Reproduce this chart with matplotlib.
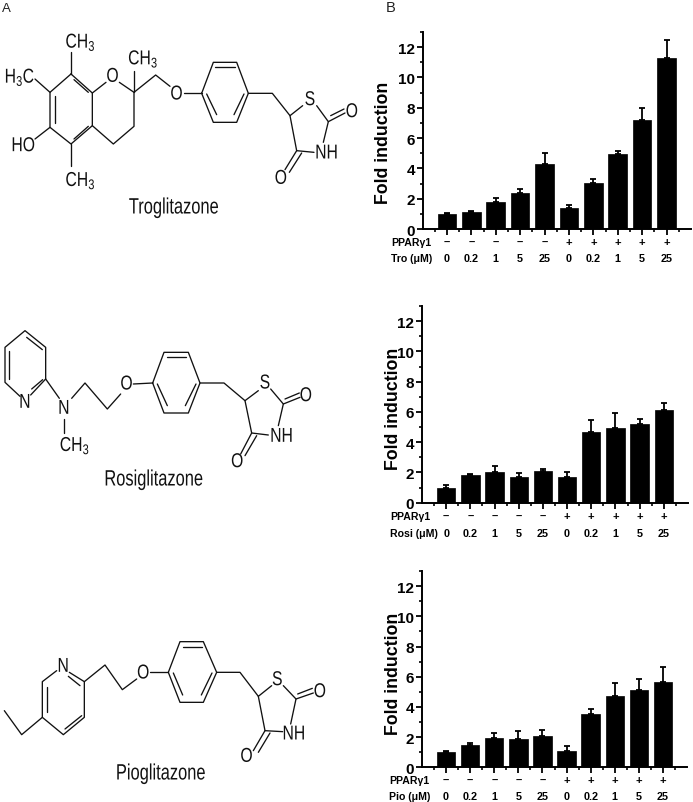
import numpy as np
import matplotlib
matplotlib.use('Agg')
import matplotlib.pyplot as plt
from matplotlib.patheffects import AbstractPathEffect
from matplotlib.transforms import Affine2D

W, H = 693, 803

plt.rcParams['font.family'] = ['Liberation Sans', 'DejaVu Sans']
plt.rcParams['mathtext.default'] = 'regular'

doses = ['0', '0.2', '1', '5', '25', '0', '0.2', '1', '5', '25']
ppar = ['–', '–', '–', '–', '–', '+', '+', '+', '+', '+']

tro_vals = [1.0, 1.1, 1.8, 2.4, 4.3, 1.4, 3.05, 4.95, 7.2, 11.3]
tro_err = [0.05, 0.08, 0.27, 0.25, 0.7, 0.2, 0.25, 0.2, 0.8, 1.15]
rosi_vals = [1.0, 1.8, 2.0, 1.7, 2.1, 1.7, 4.7, 4.95, 5.2, 6.1]
rosi_err = [0.2, 0.1, 0.45, 0.25, 0.1, 0.35, 0.75, 1.0, 0.35, 0.5]
pio_vals = [1.0, 1.5, 1.95, 1.85, 2.05, 1.05, 3.5, 4.7, 5.1, 5.65]
pio_err = [0.1, 0.1, 0.3, 0.55, 0.4, 0.35, 0.35, 0.9, 0.75, 1.0]

# structure drawings in 3x zoom pixels
tro_bonds = [
    [(213, 225), (277, 282), (277, 380), (213, 435), (150, 385), (150, 280), (213, 225)],
    [(277, 282), (318, 250)], [(358, 250), (402, 280), (402, 382), (340, 435), (277, 380)],
    [(213, 225), (213, 160)], [(150, 280), (105, 240)], [(150, 385), (105, 420)],
    [(213, 435), (213, 500)], [(402, 280), (402, 215)],
    [(402, 280), (467, 228), (510, 262)], [(552, 283), (605, 283)],
    [(605, 283), (640, 190), (710, 190), (745, 283), (710, 370), (640, 370), (605, 283)],
    [(745, 283), (817, 283), (870, 350), (908, 320)], [(950, 320), (985, 368), (970, 430)],
    [(942, 460), (890, 455), (870, 350)], [(985, 368), (1035, 342)], [(890, 455), (855, 512)],
]
tro_inner = [
    [(165, 292), (165, 373)], [(222, 242), (265, 280)], [(222, 420), (265, 382)],
    [(645, 205), (705, 205)], [(620, 285), (650, 347)], [(732, 285), (702, 347)],
    [(992, 350), (1032, 330)], [(905, 462), (868, 520)],
]
tro_labels = [
    ('CH$_3$', 242, 130), ('H$_3$C', 60, 235), ('O', 338, 232), ('CH$_3$', 430, 180),
    ('HO', 70, 440), ('CH$_3$', 242, 545), ('O', 530, 285), ('S', 930, 302),
    ('O', 1056, 338), ('NH', 980, 462), ('O', 843, 538),
]

rosi_bonds = [
    [(137, 210), (137, 115), (75, 65), (15, 115), (15, 220), (60, 262)],
    [(92, 258), (137, 210), (178, 268)], [(192, 330), (192, 372)],
    [(215, 268), (255, 222), (322, 300), (362, 255)], [(400, 225), (458, 222)],
    [(458, 222), (492, 130), (565, 130), (600, 222), (565, 312), (492, 312), (458, 222)],
    [(600, 222), (672, 222), (735, 275), (775, 245)], [(812, 240), (850, 285), (835, 350)],
    [(805, 378), (755, 372), (735, 275)], [(850, 285), (900, 265)], [(755, 372), (722, 435)],
]
rosi_inner = [
    [(28, 125), (28, 210)], [(80, 85), (127, 122)], [(95, 240), (128, 212)],
    [(500, 145), (558, 145)], [(472, 225), (502, 290)], [(588, 225), (556, 290)],
    [(855, 270), (898, 252)], [(770, 380), (735, 440)],
]
rosi_labels = [
    ('N', 75, 280), ('N', 192, 298), ('CH$_3$', 225, 410), ('O', 380, 225), ('S', 795, 222),
    ('O', 918, 260), ('NH', 845, 382), ('O', 712, 458),
]

pio_bonds = [
    [(170, 245), (127, 278), (127, 385), (190, 437), (253, 385), (253, 278), (208, 250)],
    [(127, 385), (65, 437), (13, 365)], [(253, 278), (315, 228), (367, 302), (410, 270)],
    [(450, 250), (505, 250)],
    [(505, 250), (540, 158), (610, 158), (650, 250), (610, 340), (540, 340), (505, 250)],
    [(650, 250), (720, 250), (775, 322), (815, 290)], [(850, 290), (888, 330), (872, 405)],
    [(848, 428), (795, 425), (775, 322)], [(888, 330), (940, 312)], [(795, 425), (760, 485)],
]
pio_inner = [
    [(205, 262), (240, 290)], [(142, 295), (142, 370)], [(195, 420), (245, 380)],
    [(548, 175), (605, 175)], [(520, 252), (548, 318)], [(636, 252), (604, 318)],
    [(893, 315), (937, 298)], [(810, 432), (775, 490)],
]
pio_labels = [
    ('N', 190, 232), ('O', 430, 252), ('S', 832, 272), ('O', 960, 308), ('NH', 882, 435),
    ('O', 740, 502),
]


class Squeeze(AbstractPathEffect):
    # narrows text about its middle, the reference lettering is condensed
    def __init__(self, sx):
        super().__init__()
        self.sx = sx

    def draw_path(self, renderer, gc, tpath, affine, rgbFace=None):
        cx = (tpath.vertices[:, 0].min() + tpath.vertices[:, 0].max()) / 2
        squeeze = Affine2D().translate(-cx, 0).scale(self.sx, 1).translate(cx, 0)
        renderer.draw_path(gc, tpath, squeeze + affine, rgbFace)


def add_panel(fig, left, right, top, base, vals, err, drug, ylab_x, ylab_y, row1, row2, lab_x):
    ax = fig.add_axes([left / W, 1 - base / H, (right - left) / W, (base - top) / H])
    x = np.arange(1, 11)
    ax.bar(x, vals, width=0.76, color='black', edgecolor='black', linewidth=0.5)
    ax.errorbar(x, vals, yerr=[np.zeros(10), err], fmt='none', ecolor='black',
                elinewidth=1.3, capsize=2.2, capthick=1.3)
    ax.set_xlim(0, 11)
    ax.set_ylim(0, 13)
    ax.spines['top'].set_visible(False)
    ax.spines['right'].set_visible(False)
    ax.spines['left'].set_linewidth(1.4)
    ax.spines['bottom'].set_linewidth(1.4)
    ax.set_yticks(range(0, 13, 2))
    ax.set_yticks(range(1, 14, 2), minor=True)
    ax.set_xticks(x)
    ax.set_xticks(np.arange(0.5, 11, 1), minor=True)
    ax.set_xticklabels([])
    ax.tick_params(axis='both', which='major', length=4, width=1.3)
    ax.tick_params(axis='both', which='minor', length=2.5, width=1.2)
    ax.tick_params(axis='y', which='major', pad=1.5, labelsize=11)
    for lab in ax.get_yticklabels():
        lab.set_fontweight('bold')

    # two rows under the axis, placed in figure pixels on y
    trans = ax.get_xaxis_transform()
    for i in range(10):
        ax.text(x[i], (base - row1) / (base - top), ppar[i], transform=trans, ha='center',
                va='center', fontsize=8, fontweight='bold', clip_on=False)
        ax.text(x[i], (base - row2) / (base - top), doses[i], transform=trans, ha='center',
                va='center', fontsize=7.8, fontweight='bold', clip_on=False)
    fig.text(lab_x / W, 1 - row1 / H, 'PPARγ1', ha='left', va='center', fontsize=7.6,
             fontweight='bold')
    fig.text(lab_x / W, 1 - row2 / H, drug + ' (μM)', ha='left', va='center', fontsize=7.6,
             fontweight='bold')
    fig.text(ylab_x / W, 1 - ylab_y / H, 'Fold induction', rotation=90, ha='center',
             va='center', fontsize=12.8, fontweight='bold', zorder=5)
    return ax


def draw_mol(ax, bonds, inner, labels, yoff):
    for line in bonds + inner:
        xs = [p[0] / 3 for p in line]
        ys = [p[1] / 3 + yoff for p in line]
        ax.plot(xs, ys, color='#111111', lw=0.95, solid_capstyle='round')
    for txt, x, y in labels:
        ax.text(x / 3, y / 3 + yoff, txt, ha='center', va='center', fontsize=14.5,
                color='#111111', path_effects=[Squeeze(0.78)])


fig = plt.figure(figsize=(W / 100, H / 100), dpi=100, facecolor='white')

add_panel(fig, 422.5, 691, 33, 230, tro_vals, tro_err, 'Tro', 384, 143, 243, 259, 391)
add_panel(fig, 422, 688, 307, 503.7, rosi_vals, rosi_err, 'Rosi', 393, 409, 517, 534, 390)
add_panel(fig, 422, 687, 572, 768.3, pio_vals, pio_err, 'Pio', 394, 674, 781, 797, 389)

over = fig.add_axes([0, 0, 1, 1])
over.set_xlim(0, W)
over.set_ylim(H, 0)
over.axis('off')
draw_mol(over, tro_bonds, tro_inner, tro_labels, 0)
draw_mol(over, rosi_bonds, rosi_inner, rosi_labels, 310)
draw_mol(over, pio_bonds, pio_inner, pio_labels, 590)

for name, x, y in [('Troglitazone', 174, 209), ('Rosiglitazone', 154, 481), ('Pioglitazone', 161, 775)]:
    over.text(x, y, name, ha='center', va='center', fontsize=16, color='#111111',
              path_effects=[Squeeze(0.74)])
over.text(6, 9, 'A', ha='center', va='center', fontsize=9.5, color='#222222')
over.text(391, 8, 'B', ha='center', va='center', fontsize=10.5, color='#222222')

fig.savefig('out.png', dpi=100)
